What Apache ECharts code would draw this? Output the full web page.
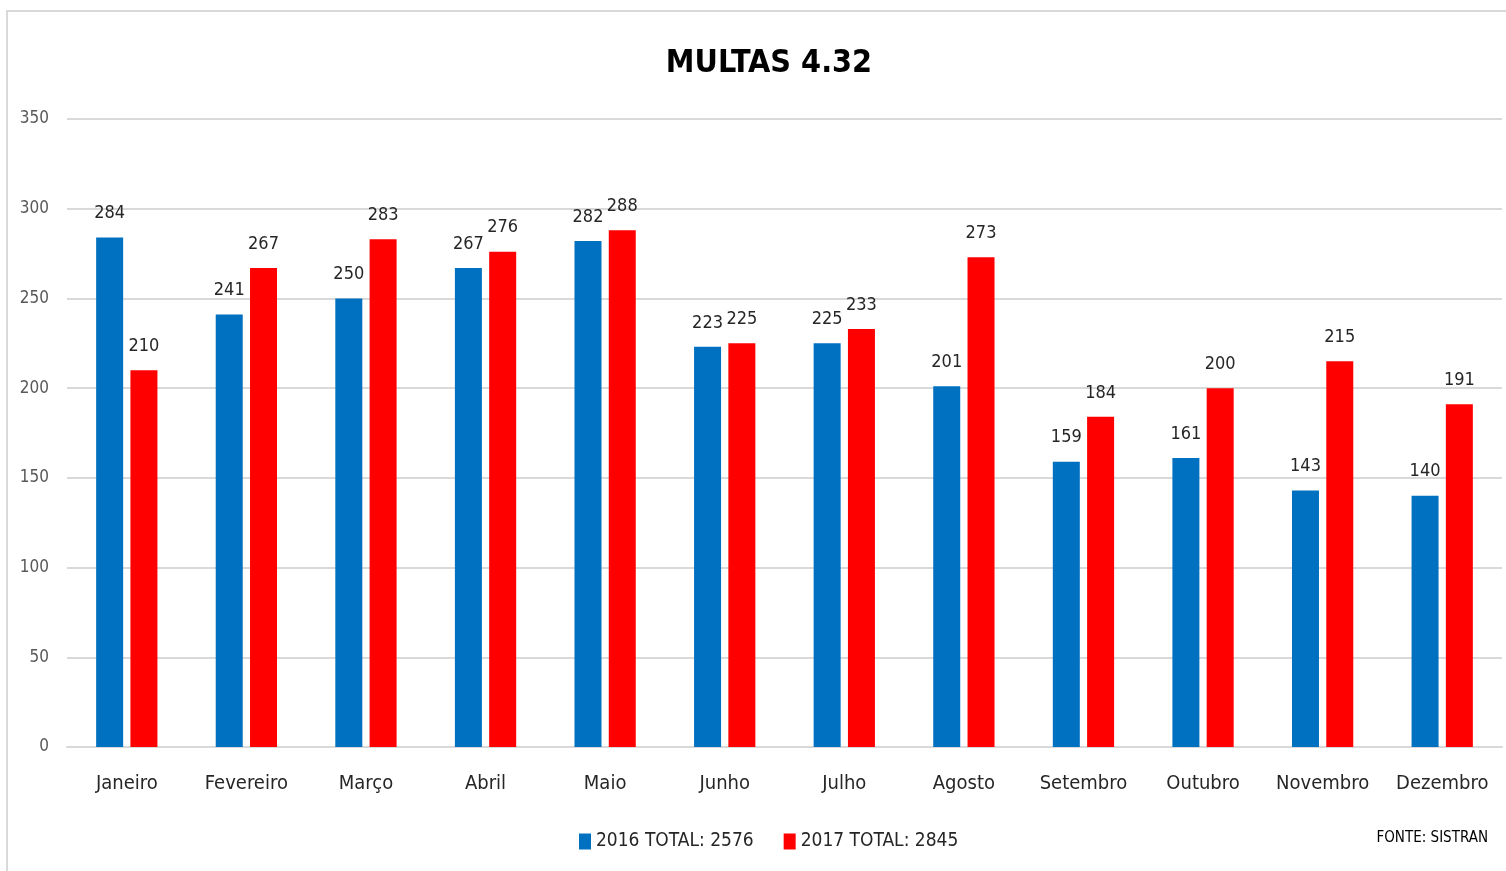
<!DOCTYPE html>
<html>
<head>
<meta charset="utf-8">
<script src="https://cdn.jsdelivr.net/npm/echarts@6/dist/echarts.min.js"></script>
<style>
  html, body { margin: 0; padding: 0; background: #fff; }
  #frame { position: absolute; left: 6px; top: 10px; width: 1520px; height: 900px;
           border-top: 2px solid #d9d9d9; border-left: 2px solid #d9d9d9; }
  #char1 { position: absolute; left: 0; top: 0; width: 1506px; height: 871px; }
</style>
</head>
<body>
<div id="frame"></div>
<div id="char1"></div>
<script>
var meses = ['Janeiro', 'Fevereiro', 'Março', 'Abril', 'Maio', 'Junho', 'Julho', 'Agosto', 'Setembro', 'Outubro', 'Novembro', 'Dezembro'];
var multas2016 = [284, 241, 250, 267, 282, 223, 225, 201, 159, 161, 143, 140];
var multas2017 = [210, 267, 283, 276, 288, 225, 233, 273, 184, 200, 215, 191];
var nome2016 = '2016 TOTAL: 2576';
var nome2017 = '2017 TOTAL: 2845';

var fonte = '"Liberation Sans Narrow", "DejaVu Sans Condensed", "Liberation Sans", sans-serif';

var myChart = echarts.init(document.getElementById('char1'));
var option = {
    animation: false,
    textStyle: { fontFamily: fonte },
    title: {
        text: 'MULTAS 4.32',
        left: 764,
        textAlign: 'center',
        top: 43,
        textStyle: { fontFamily: fonte, fontSize: 32, fontWeight: 'bold', color: '#000' }
    },
    graphic: [{
        type: 'text',
        right: 18,
        top: 831,
        style: { text: 'FONTE: SISTRAN', fontFamily: fonte, fontSize: 15, fill: '#000' }
    }],
    legend: {
        data: [nome2016, nome2017],
        left: 574,
        top: 827,
        itemWidth: 12,
        itemHeight: 16,
        itemGap: 30,
        icon: 'rect',
        textStyle: { fontFamily: fonte, fontSize: 19, color: '#262626' }
    },
    grid: { left: 67, right: 4, top: 119, bottom: 124 },
    xAxis: {
        type: 'category',
        data: meses,
        axisLine: { lineStyle: { color: '#d9d9d9', width: 2 } },
        axisTick: { show: false },
        axisLabel: { interval: 0, fontFamily: fonte, fontSize: 20, color: '#262626', margin: 27 }
    },
    yAxis: {
        type: 'value',
        min: 0,
        max: 350,
        interval: 50,
        axisLine: { show: false },
        axisTick: { show: false },
        splitLine: { lineStyle: { color: '#d9d9d9', width: 2 } },
        axisLabel: { fontFamily: fonte, fontSize: 17, color: '#595959', margin: 18 }
    },
    series: [{
        name: nome2016,
        type: 'bar',
        data: multas2016,
        barWidth: 27,
        barGap: '27%',
        itemStyle: { color: '#0070c0' },
        label: { show: true, position: 'top', distance: 15, fontFamily: fonte, fontSize: 18, color: '#262626' }
    }, {
        name: nome2017,
        type: 'bar',
        data: multas2017,
        barWidth: 27,
        itemStyle: { color: '#ff0000' },
        label: { show: true, position: 'top', distance: 15, fontFamily: fonte, fontSize: 18, color: '#262626' }
    }]
};
myChart.setOption(option);
window.addEventListener('resize', function() { myChart.resize(); });
</script>
</body>
</html>
